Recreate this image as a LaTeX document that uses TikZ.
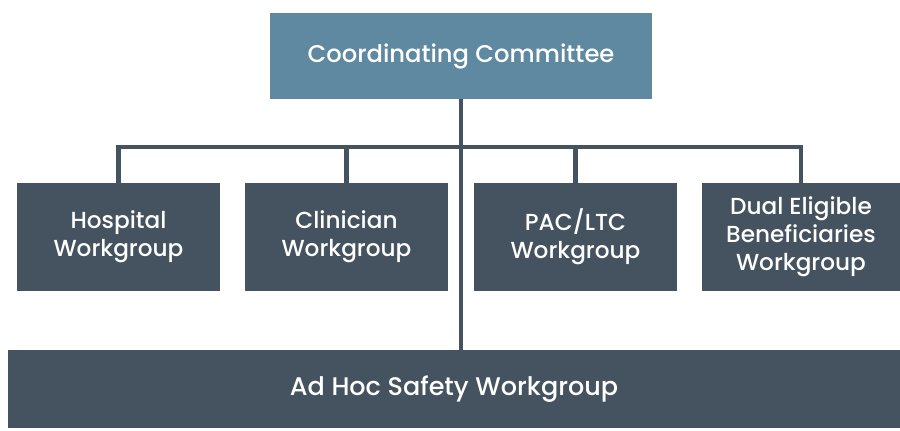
\documentclass[tikz,border=0pt]{standalone}
\usepackage{fontspec}
\setmainfont{Poppins Medium}
\definecolor{commblue}{HTML}{5F88A1}
\definecolor{wgslate}{HTML}{44535F}
\tikzset{
  wgbox/.style={fill=wgslate,text=white,align=center,minimum width=203*0.02cm,minimum height=108*0.02cm,inner sep=0pt,
    font=\fontsize{13.2}{16}\selectfont},
  link/.style={draw=wgslate,line width=2.8pt}
}
\begin{document}
\begin{tikzpicture}[x=0.02cm,y=-0.02cm]
  \useasboundingbox (0,0) rectangle (900,430);

  \node[fill=commblue,text=white,minimum width=382*0.02cm,minimum height=86*0.02cm,inner sep=0pt,
    font=\fontsize{13.8}{16}\selectfont] (cc) at (461,56) {Coordinating Committee};

  \node[wgbox] (w1) at (118.5,237) {Hospital\\Workgroup};
  \node[wgbox] (w2) at (346.5,237) {Clinician\\Workgroup};
  \node[wgbox] (w3) at (575.5,237) {PAC/LTC\\Workgroup};
  \node[wgbox,minimum width=198*0.02cm] (w4) at (801,237) {Dual Eligible\\Beneficiaries\\Workgroup};

  \node[fill=wgslate,text=white,minimum width=892*0.02cm,minimum height=78*0.02cm,inner sep=0pt,
    font=\fontsize{14.5}{16}\selectfont] (adhoc) at (454,389) {Ad Hoc Safety Workgroup};

  \coordinate (b1) at (w1.north |- 0,147);
  \coordinate (b4) at (w4.north |- 0,147);

  \draw[link] (cc.south) -- (cc.south |- adhoc.north);
  \draw[link] (w1.north) -- (b1) -- (b4) -- (w4.north);
  \draw[link] (w2.north) -- (w2.north |- b1);
  \draw[link] (w3.north) -- (w3.north |- b1);
\end{tikzpicture}
\end{document}
